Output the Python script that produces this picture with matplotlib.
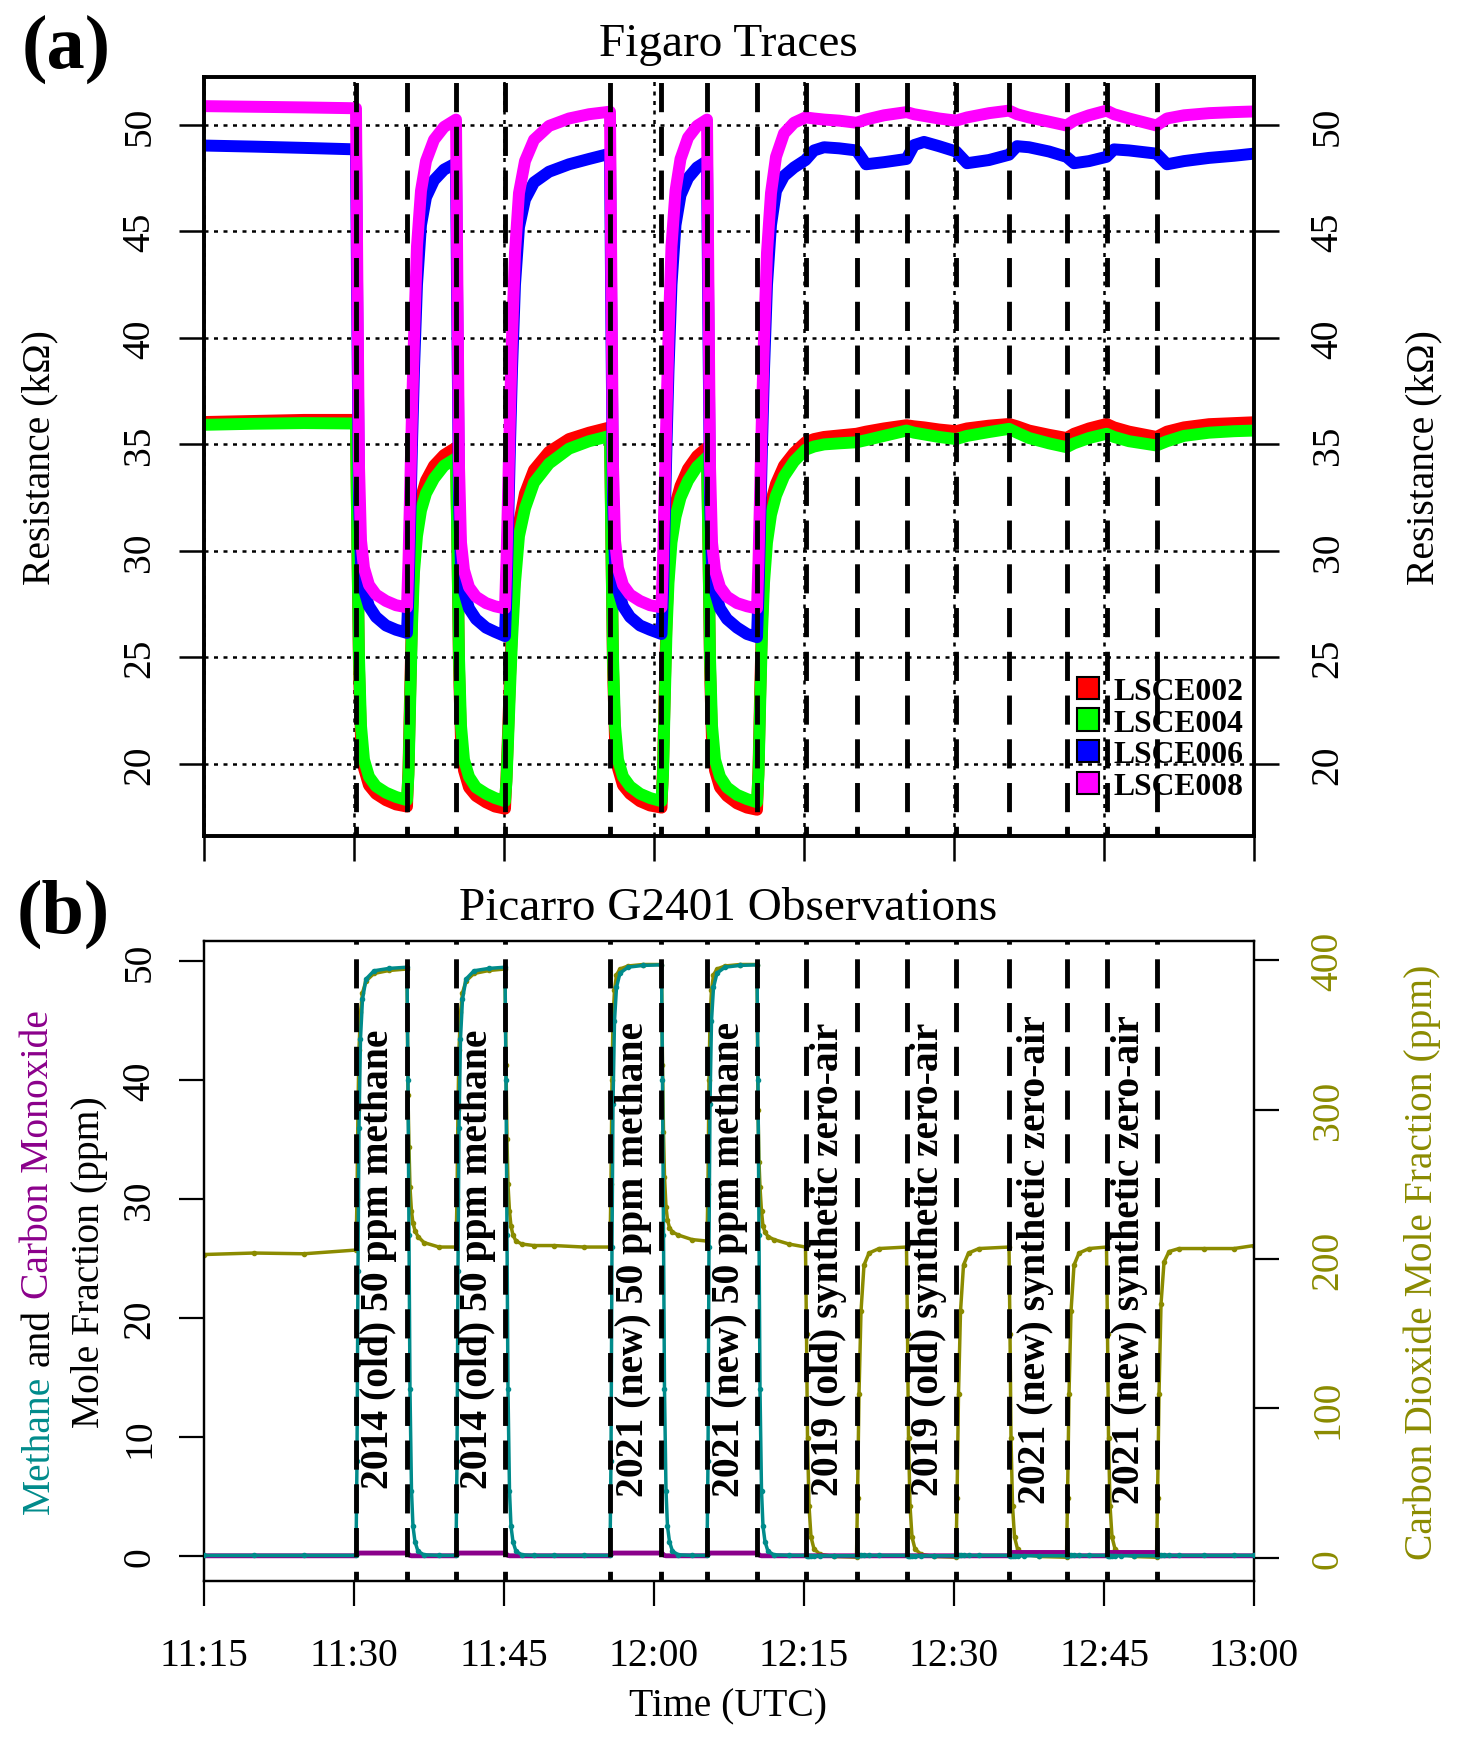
import matplotlib
matplotlib.use('agg')
import matplotlib.pyplot as plt
from matplotlib.patches import Patch

plt.rcParams['font.family'] = ['Liberation Serif', 'DejaVu Serif']

# ---- time axis: minutes after 11:15 UTC ----
x_ticks = [0, 15, 30, 45, 60, 75, 90, 105]
x_labels = ['11:15', '11:30', '11:45', '12:00', '12:15', '12:30', '12:45', '13:00']

# valve switching times (minutes after 11:15)
events = [15.2, 20.3, 25.2, 30.1, 40.6, 45.75, 50.3, 55.3,
          60.15, 65.25, 70.25, 75.2, 80.5, 86.25, 90.25, 95.25]
gas_labels = ['2014 (old) 50 ppm methane', '2014 (old) 50 ppm methane',
              '2021 (new) 50 ppm methane', '2021 (new) 50 ppm methane',
              '2019 (old) synthetic zero-air', '2019 (old) synthetic zero-air',
              '2021 (new) synthetic zero-air', '2021 (new) synthetic zero-air']

# ---- (a) Figaro sensor resistances (kOhm) ----
t_fig = [0, 5, 10, 15.2,
         15.35, 15.5, 15.7, 16.0, 16.5, 17.2, 18.2, 19.2, 20.3,
         20.45, 20.6, 20.8, 21.0, 21.3, 21.7, 22.2, 23.0, 24.0, 25.2,
         25.35, 25.5, 25.7, 26.0, 26.5, 27.2, 28.2, 29.1, 30.1,
         30.25, 30.4, 30.6, 30.8, 31.1, 31.5, 32.1, 33.0, 34.5, 36.5, 38.5, 40.6,
         40.75, 40.9, 41.1, 41.4, 41.9, 42.6, 43.6, 44.6, 45.75,
         45.9, 46.05, 46.25, 46.45, 46.75, 47.15, 47.65, 48.4, 49.3, 50.3,
         50.45, 50.6, 50.8, 51.1, 51.6, 52.3, 53.3, 54.3, 55.3,
         55.45, 55.6, 55.8, 56.0, 56.3, 56.7, 57.2, 58.0, 59.0, 60.15,
         61.0, 62.0, 63.5, 65.25, 66.2, 68.0, 70.25, 71.0, 72.0, 73.5,
         75.2, 76.3, 78.5, 80.5, 81.3, 82.5, 84.5, 86.25, 87.0, 88.5,
         90.25, 91.0, 92.5, 95.25, 96.3, 98.0, 100.5, 103.0, 105.0]

lsce002 = [36.05, 36.1, 36.15, 36.15,
           30.0, 24.5, 21.2, 19.8, 19.0, 18.6, 18.3, 18.1, 18.0,
           19.8, 23.0, 27.0, 29.6, 31.3, 32.5, 33.3, 34.0, 34.5, 34.85,
           30.0, 24.5, 21.1, 19.7, 18.9, 18.5, 18.2, 18.0, 17.9,
           19.4, 21.4, 24.1, 26.4, 29.1, 31.3, 32.7, 33.8, 34.65, 35.25, 35.55, 35.8,
           30.0, 24.5, 21.2, 19.8, 19.0, 18.6, 18.25, 18.05, 17.95,
           19.8, 23.0, 26.8, 29.1, 31.0, 32.2, 33.05, 33.85, 34.45, 34.85,
           30.0, 24.5, 21.1, 19.7, 18.9, 18.5, 18.15, 17.95, 17.85,
           19.8, 23.0, 26.8, 29.1, 31.0, 32.3, 33.15, 34.0, 34.6, 35.1,
           35.25, 35.35, 35.42, 35.5, 35.6, 35.75, 35.9, 35.85, 35.8, 35.7,
           35.62, 35.75, 35.88, 35.96, 35.85, 35.65, 35.45, 35.3, 35.5, 35.75,
           35.96, 35.8, 35.6, 35.35, 35.6, 35.8, 35.95, 36.0, 36.04]

lsce004 = [35.92, 35.97, 36.0, 35.98,
           30.0, 25.0, 21.8, 20.2, 19.4, 18.95, 18.65, 18.45, 18.3,
           19.5, 22.5, 26.5, 29.0, 30.7, 31.9, 32.7, 33.4, 34.0, 34.35,
           30.0, 25.0, 21.8, 20.2, 19.4, 18.9, 18.6, 18.4, 18.25,
           19.2, 21.0, 23.5, 25.8, 28.5, 30.7, 32.0, 33.2, 34.1, 34.8, 35.15, 35.4,
           30.0, 25.0, 21.8, 20.2, 19.4, 18.95, 18.6, 18.4, 18.25,
           19.5, 22.5, 26.2, 28.5, 30.4, 31.6, 32.5, 33.3, 33.95, 34.4,
           30.0, 25.0, 21.8, 20.2, 19.4, 18.9, 18.55, 18.35, 18.2,
           19.5, 22.5, 26.2, 28.5, 30.4, 31.7, 32.6, 33.5, 34.2, 34.75,
           34.9, 35.0, 35.05, 35.1, 35.2, 35.4, 35.65, 35.55, 35.47, 35.35,
           35.25, 35.4, 35.58, 35.73, 35.55, 35.3, 35.05, 34.87, 35.05, 35.3,
           35.5, 35.35, 35.15, 34.95, 35.15, 35.4, 35.55, 35.62, 35.65]

lsce006 = [49.03, 48.98, 48.92, 48.85,
           40.0, 32.5, 29.3, 28.2, 27.4, 26.9, 26.5, 26.3, 26.15,
           28.0, 31.0, 35.0, 38.5, 42.5, 45.3, 46.6, 47.4, 47.9, 48.2,
           40.0, 32.5, 29.2, 28.1, 27.3, 26.8, 26.4, 26.2, 26.0,
           28.0, 31.0, 35.0, 38.5, 42.5, 45.2, 46.5, 47.3, 47.8, 48.15, 48.4, 48.65,
           40.0, 32.5, 29.3, 28.2, 27.4, 26.9, 26.5, 26.3, 26.1,
           28.0, 31.0, 35.0, 38.5, 42.5, 45.3, 46.7, 47.5, 48.0, 48.3,
           40.0, 32.5, 29.2, 28.1, 27.3, 26.8, 26.4, 26.1, 25.95,
           28.0, 31.0, 35.0, 38.5, 42.5, 45.3, 46.9, 47.6, 48.0, 48.35,
           48.8, 48.95, 48.9, 48.8, 48.15, 48.25, 48.4, 49.05, 49.2, 49.0,
           48.75, 48.2, 48.35, 48.6, 49.0, 48.95, 48.75, 48.5, 48.2, 48.3,
           48.5, 48.85, 48.8, 48.65, 48.15, 48.3, 48.45, 48.55, 48.65]

lsce008 = [50.88, 50.85, 50.82, 50.78,
           42.0, 34.0, 30.5, 29.2, 28.4, 27.95, 27.65, 27.45, 27.35,
           29.5, 32.5, 36.5, 40.0, 44.3, 46.9, 48.3, 49.3, 49.9, 50.25,
           42.0, 34.0, 30.4, 29.1, 28.3, 27.85, 27.55, 27.4, 27.3,
           29.5, 32.5, 36.5, 40.0, 44.0, 46.8, 48.3, 49.3, 49.95, 50.3, 50.5, 50.62,
           42.0, 34.0, 30.5, 29.2, 28.4, 27.95, 27.65, 27.45, 27.35,
           29.5, 32.5, 36.5, 40.0, 44.3, 46.9, 48.4, 49.4, 49.95, 50.25,
           42.0, 34.0, 30.4, 29.1, 28.3, 27.85, 27.55, 27.4, 27.3,
           29.5, 32.5, 36.5, 40.0, 44.0, 46.8, 48.5, 49.6, 50.1, 50.35,
           50.3, 50.25, 50.2, 50.1, 50.25, 50.45, 50.6, 50.5, 50.42, 50.3,
           50.2, 50.35, 50.55, 50.67, 50.5, 50.35, 50.15, 49.97, 50.2, 50.45,
           50.67, 50.5, 50.3, 49.97, 50.3, 50.45, 50.55, 50.6, 50.63]

sensor_names = ['LSCE002', 'LSCE004', 'LSCE006', 'LSCE008']
sensor_colors = ['#ff0000', '#00ff00', '#0000ff', '#ff00ff']

# ---- (b) Picarro G2401 mole fractions (ppm) ----
t_pic = [0, 5, 10, 15.2,
         15.3, 15.4, 15.5, 15.65, 15.85, 16.2, 17.0, 18.5, 20.3,
         20.4, 20.5, 20.6, 20.75, 20.9, 21.1, 21.4, 22.0, 23.5, 25.2,
         25.3, 25.4, 25.5, 25.65, 25.85, 26.2, 27.0, 28.5, 30.1,
         30.2, 30.3, 30.4, 30.55, 30.7, 30.9, 31.2, 31.8, 33.0, 35.0, 38.0, 40.6,
         40.7, 40.8, 40.9, 41.05, 41.25, 41.6, 42.4, 43.9, 45.75,
         45.85, 45.95, 46.05, 46.2, 46.35, 46.55, 46.85, 47.45, 48.8, 50.3,
         50.4, 50.5, 50.6, 50.75, 50.95, 51.3, 52.1, 53.6, 55.3,
         55.4, 55.5, 55.6, 55.75, 55.9, 56.1, 56.4, 57.0, 58.5, 60.15,
         60.25, 60.35, 60.5, 60.7, 61.0, 61.6, 63.0, 65.25,
         65.35, 65.5, 65.7, 66.0, 66.5, 67.5, 70.25,
         70.35, 70.45, 70.6, 70.8, 71.1, 71.7, 73.0, 75.2,
         75.3, 75.45, 75.65, 75.95, 76.45, 77.5, 80.5,
         80.6, 80.7, 80.85, 81.05, 81.35, 81.95, 83.5, 86.25,
         86.35, 86.5, 86.7, 87.0, 87.5, 88.5, 90.25,
         90.35, 90.45, 90.6, 90.8, 91.1, 91.7, 93.0, 95.25,
         95.35, 95.5, 95.7, 96.0, 96.5, 97.5, 100.0, 103.0, 105.0]

ch4 = [0.05, 0.05, 0.05, 0.05,
       8, 24, 36, 43.5, 46.8, 48.5, 49.2, 49.4, 49.5,
       40, 27, 14, 5.5, 2.5, 1.2, 0.4, 0.1, 0.05, 0.05,
       8, 24, 36, 43.5, 46.8, 48.5, 49.2, 49.4, 49.5,
       40, 27, 14, 5.5, 2.5, 1.2, 0.4, 0.1, 0.05, 0.05, 0.05, 0.05,
       8, 26, 38, 45, 47.8, 49.0, 49.5, 49.65, 49.7,
       40, 27, 14, 5.5, 2.5, 1.2, 0.4, 0.1, 0.05, 0.05,
       8, 26, 38, 45, 47.8, 49.0, 49.5, 49.65, 49.7,
       40, 27, 14, 5.5, 2.5, 1.2, 0.4, 0.1, 0.05, 0.05,
       0.03, 0.02, 0.02, 0.02, 0.02, 0.02, 0.02, 0.02,
       0.05, 0.05, 0.05, 0.05, 0.05, 0.05, 0.05,
       0.03, 0.02, 0.02, 0.02, 0.02, 0.02, 0.02, 0.02,
       0.05, 0.05, 0.05, 0.05, 0.05, 0.05, 0.05,
       0.03, 0.02, 0.02, 0.02, 0.02, 0.02, 0.02, 0.02,
       0.05, 0.05, 0.05, 0.05, 0.05, 0.05, 0.05,
       0.03, 0.02, 0.02, 0.02, 0.02, 0.02, 0.02, 0.02,
       0.05, 0.05, 0.05, 0.05, 0.05, 0.05, 0.05, 0.05, 0.05]

co = [0.02, 0.02, 0.02, 0.02,
      0.1, 0.2, 0.25, 0.25, 0.25, 0.25, 0.25, 0.25, 0.25,
      0.2, 0.1, 0.05, 0.02, 0.02, 0.02, 0.02, 0.02, 0.02, 0.02,
      0.1, 0.2, 0.25, 0.25, 0.25, 0.25, 0.25, 0.25, 0.25,
      0.2, 0.1, 0.05, 0.02, 0.02, 0.02, 0.02, 0.02, 0.02, 0.02, 0.02, 0.02,
      0.1, 0.2, 0.25, 0.25, 0.25, 0.25, 0.25, 0.25, 0.25,
      0.2, 0.1, 0.05, 0.02, 0.02, 0.02, 0.02, 0.02, 0.02, 0.02,
      0.1, 0.2, 0.25, 0.25, 0.25, 0.25, 0.25, 0.25, 0.25,
      0.2, 0.1, 0.05, 0.02, 0.02, 0.02, 0.02, 0.02, 0.02, 0.02,
      0.02, 0.02, 0.02, 0.02, 0.02, 0.02, 0.02, 0.02,
      0.02, 0.02, 0.02, 0.02, 0.02, 0.02, 0.02,
      0.02, 0.02, 0.02, 0.02, 0.02, 0.02, 0.02, 0.02,
      0.02, 0.02, 0.02, 0.02, 0.02, 0.02, 0.02,
      0.1, 0.2, 0.3, 0.3, 0.3, 0.3, 0.3, 0.3,
      0.1, 0.02, 0.02, 0.02, 0.02, 0.02, 0.02,
      0.1, 0.2, 0.3, 0.3, 0.3, 0.3, 0.3, 0.3,
      0.1, 0.02, 0.02, 0.02, 0.02, 0.02, 0.02, 0.02, 0.02]

co2 = [203, 204, 203.5, 206,
       240, 300, 340, 365, 378, 386, 391, 393, 394,
       310, 275, 248, 232, 224, 219, 215, 211, 208, 208,
       240, 300, 340, 365, 378, 386, 391, 393, 394,
       330, 280, 250, 232, 222, 216, 212, 210, 209, 209, 208, 208,
       250, 320, 360, 380, 390, 394, 396, 397, 397,
       330, 285, 255, 235, 226, 221, 218, 216, 213, 212,
       250, 320, 360, 380, 390, 394, 396, 397, 397,
       300, 265, 248, 232, 222, 218, 215, 213, 210, 208,
       150, 80, 35, 14, 6, 2.5, 1, 0.5,
       40, 110, 165, 196, 204, 207, 208,
       150, 80, 35, 14, 6, 2.5, 1, 0.5,
       40, 110, 165, 196, 204, 207, 208,
       150, 80, 35, 14, 6, 2.5, 1, 0.5,
       40, 110, 165, 196, 204, 207, 208,
       150, 80, 35, 14, 6, 2.5, 1, 0.5,
       40, 110, 170, 198, 205, 207, 207, 207, 209]

teal = '#008b8b'
purple = '#8b008b'
olive = '#8b8b00'

FS = 28.5
W, H = 1458, 1740

fig = plt.figure(figsize=(W / 100, H / 100), dpi=100)

# ================= panel (a) =================
ax_a = fig.add_axes([0.1399, 0.5190, 0.7202, 0.4362])
for vals, c in zip([lsce002, lsce004, lsce006, lsce008], sensor_colors):
    ax_a.plot(t_fig, vals, color=c, lw=8.6, solid_capstyle='round',
              solid_joinstyle='round', zorder=2)
for e in events:
    ax_a.axvline(e, color='black', lw=3.5, linestyle=(4, (6, 3)), zorder=5)

ax_a.set_xlim(0, 105)
ax_a.set_ylim(16.62, 52.25)
ax_a.set_axisbelow(True)
ax_a.grid(True, color='black', lw=1.8, linestyle=(0, (1.6, 2.2)))
ax_a.set_xticks(x_ticks)
ax_a.tick_params(axis='x', labelbottom=False, length=18, width=1.8)
ya_ticks = [20, 25, 30, 35, 40, 45, 50]
ax_a.set_yticks(ya_ticks)
ax_a.set_yticklabels([str(v) for v in ya_ticks], rotation=90, va='center')
ax_a.tick_params(axis='y', length=18, width=1.8, pad=15, labelsize=FS)

ax_a2 = ax_a.twinx()
ax_a2.set_ylim(ax_a.get_ylim())
ax_a2.set_yticks(ya_ticks)
ax_a2.set_yticklabels([str(v) for v in ya_ticks], rotation=90, va='center')
ax_a2.tick_params(axis='y', length=18, width=1.8, pad=22, labelsize=FS)
for ax in (ax_a, ax_a2):
    for sp in ax.spines.values():
        sp.set_linewidth(2.6)

handles = [Patch(facecolor=c, edgecolor='black', linewidth=1.5, label=n)
           for n, c in zip(sensor_names, sensor_colors)]
leg = ax_a.legend(handles=handles, loc='lower right', bbox_to_anchor=(0.99, 0.046),
                  frameon=False, prop={'weight': 'bold', 'size': 22.8},
                  handlelength=0.7, handleheight=0.7, handletextpad=0.45,
                  labelspacing=0.08, borderpad=0, borderaxespad=0)
leg.set_zorder(1)

fig.text(0.4993, 1 - 56 / H, 'Figaro Traces', ha='center', va='baseline', fontsize=34)
fig.text(66 / W, 1 - 68 / H, '(a)', ha='center', va='baseline', fontsize=55, fontweight='bold')
fig.text(40 / W, 1 - 457.5 / H, 'Resistance (kΩ)', rotation=90, ha='center', va='center', fontsize=FS)
fig.text(1424 / W, 1 - 457.5 / H, 'Resistance (kΩ)', rotation=90, ha='center', va='center', fontsize=FS)

# ================= panel (b) =================
ax_b = fig.add_axes([0.1399, 0.0908, 0.7202, 0.3678])
ax_b2 = ax_b.twinx()
ax_b.set_zorder(ax_b2.get_zorder() + 1)
ax_b.patch.set_visible(False)

ax_b2.plot(t_pic, co2, color=olive, lw=2.5, marker='o', ms=3, zorder=2)
ax_b.plot(t_pic, co, color=purple, lw=3.5, zorder=2)
ax_b.plot(t_pic, ch4, color=teal, lw=2.5, marker='o', ms=3, zorder=3)
for e in events:
    ax_b.axvline(e, color='black', lw=3.5, linestyle=(4, (6, 3)), zorder=5)
for i, lab in enumerate(gas_labels):
    xm = (events[2 * i] + events[2 * i + 1]) / 2 - 0.25
    ax_b.text(xm, 25, lab, rotation=90, ha='center', va='center',
              fontsize=FS, fontweight='bold', zorder=6)

ax_b.set_xlim(0, 105)
ax_b.set_ylim(-2.1, 51.7)
ax_b2.set_ylim(-15.4, 412.7)
ax_b.set_xticks(x_ticks)
ax_b.set_xticklabels(x_labels)
ax_b.tick_params(axis='x', length=18, width=1.6, pad=22, labelsize=FS)
yb_ticks = [0, 10, 20, 30, 40, 50]
ax_b.set_yticks(yb_ticks)
ax_b.set_yticklabels([str(v) for v in yb_ticks], rotation=90, va='center')
ax_b.tick_params(axis='y', length=18, width=1.6, pad=15, labelsize=FS)
yb2_ticks = [0, 100, 200, 300, 400]
ax_b2.set_yticks(yb2_ticks)
ax_b2.set_yticklabels([str(v) for v in yb2_ticks], rotation=90, va='center')
ax_b2.tick_params(axis='y', length=18, width=1.6, pad=22, labelsize=FS, labelcolor=olive)
for ax in (ax_b, ax_b2):
    for sp in ax.spines.values():
        sp.set_linewidth(1.6)

fig.text(0.4993, 1 - 920 / H, 'Picarro G2401 Observations', ha='center', va='baseline', fontsize=34)
fig.text(63 / W, 1 - 933 / H, '(b)', ha='center', va='baseline', fontsize=55, fontweight='bold')
fig.text(0.4993, 1 - 1716.7 / H, 'Time (UTC)', ha='center', va='baseline', fontsize=FS)
fig.text(1422 / W, 1 - 1262 / H, 'Carbon Dioxide Mole Fraction (ppm)', rotation=90,
         ha='center', va='center', fontsize=FS, color=olive)
fig.text(90 / W, 1 - 1262 / H, 'Mole Fraction (ppm)', rotation=90,
         ha='center', va='center', fontsize=FS)

# multi-coloured first line of the left label
renderer = fig.canvas.get_renderer()
pieces = [('Methane', teal), ('and', 'black'), ('Carbon Monoxide', purple)]
parts = [fig.text(39 / W, 0, s, rotation=90, ha='center', va='bottom', fontsize=FS, color=c)
         for s, c in pieces]
lens = [p.get_window_extent(renderer).height for p in parts]
p1 = fig.text(0, 0, 'n n', fontsize=FS)
p2 = fig.text(0, 0, 'nn', fontsize=FS)
space = p1.get_window_extent(renderer).width - p2.get_window_extent(renderer).width
p1.remove()
p2.remove()
total = sum(lens) + space * (len(parts) - 1)
ypos = (H - 1262) - total / 2
for p, L in zip(parts, lens):
    p.set_y(ypos / H)
    ypos += L + space

fig.savefig('out.png', dpi=100)
